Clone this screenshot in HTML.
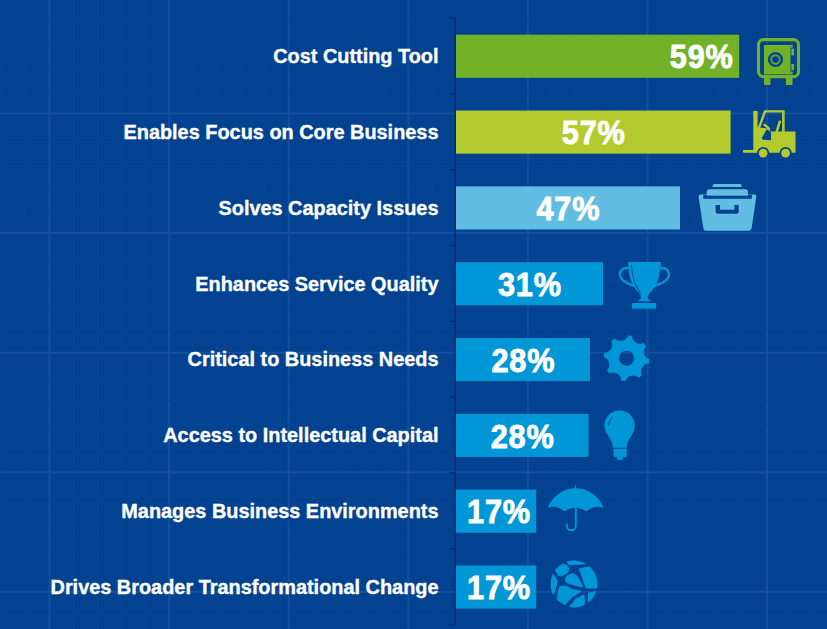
<!DOCTYPE html>
<html><head><meta charset="utf-8"><style>
html,body{margin:0;padding:0;background:#024290;overflow:hidden;}
svg{display:block;}
.lab{font-family:"Liberation Sans", sans-serif;font-weight:bold;font-size:19.9px;fill:#fff;stroke:#fff;stroke-width:0.35px;}
.pct{font-family:"Liberation Sans", sans-serif;font-weight:bold;font-size:32px;fill:#fff;stroke:#fff;stroke-width:0.8px;letter-spacing:0.8px;}
</style></head><body>
<svg width="827" height="629" viewBox="0 0 827 629">
<rect width="827" height="629" fill="#024290"/>
<rect x="1.16" y="0" width="1" height="629" fill="#064692"/>
<rect x="25.08" y="0" width="1" height="629" fill="#064692"/>
<rect x="48.50" y="0" width="2" height="629" fill="#13519e"/>
<rect x="72.92" y="0" width="1" height="629" fill="#064692"/>
<rect x="96.84" y="0" width="1" height="629" fill="#064692"/>
<rect x="120.76" y="0" width="1" height="629" fill="#064692"/>
<rect x="144.68" y="0" width="1" height="629" fill="#064692"/>
<rect x="168.10" y="0" width="2" height="629" fill="#13519e"/>
<rect x="192.52" y="0" width="1" height="629" fill="#064692"/>
<rect x="216.44" y="0" width="1" height="629" fill="#064692"/>
<rect x="240.36" y="0" width="1" height="629" fill="#064692"/>
<rect x="264.28" y="0" width="1" height="629" fill="#064692"/>
<rect x="287.70" y="0" width="2" height="629" fill="#13519e"/>
<rect x="312.12" y="0" width="1" height="629" fill="#064692"/>
<rect x="336.04" y="0" width="1" height="629" fill="#064692"/>
<rect x="359.96" y="0" width="1" height="629" fill="#064692"/>
<rect x="383.88" y="0" width="1" height="629" fill="#064692"/>
<rect x="407.30" y="0" width="2" height="629" fill="#13519e"/>
<rect x="431.72" y="0" width="1" height="629" fill="#064692"/>
<rect x="455.64" y="0" width="1" height="629" fill="#064692"/>
<rect x="479.56" y="0" width="1" height="629" fill="#064692"/>
<rect x="503.48" y="0" width="1" height="629" fill="#064692"/>
<rect x="526.90" y="0" width="2" height="629" fill="#13519e"/>
<rect x="551.32" y="0" width="1" height="629" fill="#064692"/>
<rect x="575.24" y="0" width="1" height="629" fill="#064692"/>
<rect x="599.16" y="0" width="1" height="629" fill="#064692"/>
<rect x="623.08" y="0" width="1" height="629" fill="#064692"/>
<rect x="646.50" y="0" width="2" height="629" fill="#13519e"/>
<rect x="670.92" y="0" width="1" height="629" fill="#064692"/>
<rect x="694.84" y="0" width="1" height="629" fill="#064692"/>
<rect x="718.76" y="0" width="1" height="629" fill="#064692"/>
<rect x="742.68" y="0" width="1" height="629" fill="#064692"/>
<rect x="766.10" y="0" width="2" height="629" fill="#13519e"/>
<rect x="790.52" y="0" width="1" height="629" fill="#064692"/>
<rect x="814.44" y="0" width="1" height="629" fill="#064692"/>
<rect x="0" y="17.32" width="827" height="1" fill="#064692"/>
<rect x="0" y="41.24" width="827" height="1" fill="#064692"/>
<rect x="0" y="65.16" width="827" height="1" fill="#064692"/>
<rect x="0" y="89.08" width="827" height="1" fill="#064692"/>
<rect x="0" y="112.50" width="827" height="2" fill="#13519e"/>
<rect x="0" y="136.92" width="827" height="1" fill="#064692"/>
<rect x="0" y="160.84" width="827" height="1" fill="#064692"/>
<rect x="0" y="184.76" width="827" height="1" fill="#064692"/>
<rect x="0" y="208.68" width="827" height="1" fill="#064692"/>
<rect x="0" y="232.10" width="827" height="2" fill="#13519e"/>
<rect x="0" y="256.52" width="827" height="1" fill="#064692"/>
<rect x="0" y="280.44" width="827" height="1" fill="#064692"/>
<rect x="0" y="304.36" width="827" height="1" fill="#064692"/>
<rect x="0" y="328.28" width="827" height="1" fill="#064692"/>
<rect x="0" y="351.70" width="827" height="2" fill="#13519e"/>
<rect x="0" y="376.12" width="827" height="1" fill="#064692"/>
<rect x="0" y="400.04" width="827" height="1" fill="#064692"/>
<rect x="0" y="423.96" width="827" height="1" fill="#064692"/>
<rect x="0" y="447.88" width="827" height="1" fill="#064692"/>
<rect x="0" y="471.30" width="827" height="2" fill="#13519e"/>
<rect x="0" y="495.72" width="827" height="1" fill="#064692"/>
<rect x="0" y="519.64" width="827" height="1" fill="#064692"/>
<rect x="0" y="543.56" width="827" height="1" fill="#064692"/>
<rect x="0" y="567.48" width="827" height="1" fill="#064692"/>
<rect x="0" y="590.90" width="827" height="2" fill="#13519e"/>
<rect x="0" y="615.32" width="827" height="1" fill="#064692"/>
<rect x="454.6" y="17.4" width="1.3" height="607.6" fill="#012a6c"/>
<rect x="449" y="17.35" width="6.9" height="1.3" fill="#012a6c"/>
<rect x="449" y="93.18" width="6.9" height="1.3" fill="#012a6c"/>
<rect x="449" y="169.01" width="6.9" height="1.3" fill="#012a6c"/>
<rect x="449" y="244.84" width="6.9" height="1.3" fill="#012a6c"/>
<rect x="449" y="320.67" width="6.9" height="1.3" fill="#012a6c"/>
<rect x="449" y="396.50" width="6.9" height="1.3" fill="#012a6c"/>
<rect x="449" y="472.33" width="6.9" height="1.3" fill="#012a6c"/>
<rect x="449" y="548.16" width="6.9" height="1.3" fill="#012a6c"/>
<rect x="449" y="623.99" width="6.9" height="1.3" fill="#012a6c"/>
<rect x="456" y="34.70" width="283.20" height="43.1" fill="#72b229"/>
<text x="438.5" y="63.15" text-anchor="end" class="lab">Cost Cutting Tool</text>
<text transform="translate(733.60,68.45) scale(0.96,1.04)" text-anchor="end" class="pct">59%</text>
<rect x="456" y="110.53" width="274.60" height="43.1" fill="#b4cb2d"/>
<text x="438.5" y="138.98" text-anchor="end" class="lab">Enables Focus on Core Business</text>
<text transform="translate(593.70,144.28) scale(0.96,1.04)" text-anchor="middle" class="pct">57%</text>
<rect x="456" y="186.36" width="224.00" height="43.1" fill="#62bde3"/>
<text x="438.5" y="214.81" text-anchor="end" class="lab">Solves Capacity Issues</text>
<text transform="translate(568.40,220.11) scale(0.96,1.04)" text-anchor="middle" class="pct">47%</text>
<rect x="456" y="262.19" width="147.00" height="43.1" fill="#0196d6"/>
<text x="438.5" y="290.64" text-anchor="end" class="lab">Enhances Service Quality</text>
<text transform="translate(529.90,295.94) scale(0.96,1.04)" text-anchor="middle" class="pct">31%</text>
<rect x="456" y="338.02" width="134.00" height="43.1" fill="#0196d6"/>
<text x="438.5" y="366.47" text-anchor="end" class="lab">Critical to Business Needs</text>
<text transform="translate(523.40,371.77) scale(0.96,1.04)" text-anchor="middle" class="pct">28%</text>
<rect x="456" y="413.85" width="132.50" height="43.1" fill="#0196d6"/>
<text x="438.5" y="442.30" text-anchor="end" class="lab">Access to Intellectual Capital</text>
<text transform="translate(522.65,447.60) scale(0.96,1.04)" text-anchor="middle" class="pct">28%</text>
<rect x="456" y="489.68" width="80.20" height="43.1" fill="#0196d6"/>
<text x="438.5" y="518.13" text-anchor="end" class="lab">Manages Business Environments</text>
<text transform="translate(499.00,523.43) scale(0.96,1.04)" text-anchor="middle" class="pct">17%</text>
<rect x="456" y="565.51" width="80.20" height="43.1" fill="#0196d6"/>
<text x="438.5" y="593.96" text-anchor="end" class="lab">Drives Broader Transformational Change</text>
<text transform="translate(499.00,599.26) scale(0.96,1.04)" text-anchor="middle" class="pct">17%</text>
<g fill="#72b229">
<rect x="758.5" y="39.65" width="40" height="37" rx="5" ry="5" fill="none" stroke="#72b229" stroke-width="3.1"/>
<rect x="764" y="45" width="26.5" height="29.4"/>
<rect x="790.5" y="44.8" width="2.2" height="3"/>
<rect x="790.5" y="71.4" width="2.2" height="3"/>
<rect x="791.3" y="48.6" width="2.8" height="6.7"/>
<rect x="791.3" y="63.9" width="2.8" height="6.3"/>
<rect x="764" y="77" width="6.5" height="8"/>
<rect x="786" y="77" width="6.5" height="8"/>
<circle cx="775.5" cy="59.5" r="6.4" fill="none" stroke="#024290" stroke-width="2.4"/>
<circle cx="775.5" cy="59.5" r="3.3" fill="#024290"/>
<circle cx="775.5" cy="59.5" r="4.3" fill="none" stroke="#024290" stroke-width="0.7" stroke-dasharray="0.9 1.2" opacity="0.8"/>
</g>
<g fill="#b4cb2d">
<rect x="753.3" y="110.9" width="4.3" height="41.9"/>
<rect x="742.9" y="149.9" width="12" height="2.9" rx="1"/>
<path d="M765.5 110.2 H784.7 V132.2 H782.1 V112.6 H765.6 L764.2 111.8 Q764.4 110.2 765.5 110.2 Z"/>
<path d="M765 111.4 L758.9 128.2" stroke="#b4cb2d" stroke-width="2.4" stroke-linecap="round" fill="none"/>
<path d="M779.8 121.7 L776.7 131.6" stroke="#b4cb2d" stroke-width="2.5" stroke-linecap="round" fill="none"/>
<path d="M757 127.4 L766 128.2 L771.2 131.5 H795.5 V152.8 H757 Z"/>
<path d="M766.6 129.4 L771 131.9 V140.2 L763.4 139.8 Q761.6 139.4 762.2 137.2 Z" fill="#024290"/>
<path d="M764.6 124.9 L769.1 128.7" stroke="#b4cb2d" stroke-width="2.5" stroke-linecap="round" fill="none"/>
<circle cx="763.1" cy="153.1" r="6.1" fill="#024290"/>
<circle cx="785.6" cy="153.1" r="6.1" fill="#024290"/>
<circle cx="763.1" cy="153.1" r="4.4"/>
<circle cx="785.6" cy="153.1" r="4.4"/>
</g>
<g fill="#62bde3">
<path d="M714.5 183.9 H739.8 Q741.8 183.9 741.8 186 V187 H712.5 V186 Q712.5 183.9 714.5 183.9 Z"/>
<path d="M709.3 189.2 H745.4 Q747.9 189.2 747.9 191.7 V195.7 H706.8 V191.7 Q706.8 189.2 709.3 189.2 Z"/>
<path d="M700.5 194.4 H754.3 Q756.6 194.4 756.3 196.6 L751.6 228.3 Q751.2 230.8 748.7 230.8 H706.1 Q703.6 230.8 703.3 228.3 L698.6 196.6 Q698.3 194.4 700.5 194.4 Z"/>
<rect x="703.3" y="194.9" width="48.6" height="3.9" fill="#024290"/>
<rect x="706.8" y="191.5" width="41.1" height="4.2"/>
<path d="M715.6 204.9 H720 V209.7 H734.4 V204.9 H738.7 V211.7 Q738.7 213.7 736.7 213.7 H717.6 Q715.6 213.7 715.6 211.7 Z" fill="#024290"/>
</g>
<g fill="#0196d6">
<path d="M628 262 H660.9 C660.5 268 659.5 276 657.9 280 C656.8 283 655.5 285.5 653.5 288.5 C651.5 291.5 648 294 647.9 296.7 V298.8 L651.5 301.2 H637.3 L640.9 298.8 V296.7 C640.8 294 637.3 291.5 635.3 288.5 C633.3 285.5 632 283 630.9 280 C629.3 276 628.3 268 628 262 Z"/>
<rect x="632" y="303" width="24.1" height="5.7"/>
<path d="M629.6 268.2 C624 267.3 619.6 269.5 619.9 274.6 C620.3 280.5 628 284.8 635.8 286" fill="none" stroke="#0196d6" stroke-width="2.3"/>
<path d="M659.2 268.2 C664.8 267.3 669.2 269.5 668.9 274.6 C668.5 280.5 660.8 284.8 653 286" fill="none" stroke="#0196d6" stroke-width="2.3"/>
<path d="M631.3 264.7 C631.8 272 633.5 281 636.5 286.5 C637.8 289 639.2 291.5 640.5 293.5" fill="none" stroke="#024290" stroke-width="0.9"/>
</g>
<mask id="gm"><rect x="590" y="320" width="80" height="80" fill="#fff"/><circle cx="639.99" cy="335.91" r="8" fill="#000"/><circle cx="651.83" cy="351.91" r="8" fill="#000"/><circle cx="648.89" cy="371.59" r="8" fill="#000"/><circle cx="632.89" cy="383.43" r="8" fill="#000"/><circle cx="613.21" cy="380.49" r="8" fill="#000"/><circle cx="601.37" cy="364.49" r="8" fill="#000"/><circle cx="604.31" cy="344.81" r="8" fill="#000"/><circle cx="620.31" cy="332.97" r="8" fill="#000"/><circle cx="626.6" cy="358.2" r="7.55" fill="#000"/></mask>
<circle cx="626.6" cy="358.2" r="23" fill="#0196d6" mask="url(#gm)"/>
<g fill="#0196d6">
<path d="M619.6 410.5 C628 410.5 634.7 417 634.7 425.5 C634.7 430 633 433.5 630.5 437 C628.5 440 627 443 626.7 447.8 H612.9 C612.6 443 611 440 609 437 C606.5 433.5 604.5 430 604.5 425.5 C604.5 417 611.2 410.5 619.6 410.5 Z"/>
<path d="M613.4 448.8 H626.7 V455.2 Q626.7 457.2 624.7 457.2 H615.4 Q613.4 457.2 613.4 455.2 Z"/>
<path d="M616.9 457 H622.7 V458.4 Q622.7 459.9 621.2 459.9 H618.4 Q616.9 459.9 616.9 458.4 Z"/>
<path d="M612.8 417.2 C610.5 418.8 609 421.5 608.6 424.8" fill="none" stroke="#024290" stroke-width="1" stroke-linecap="round"/>
</g>
<g fill="#0196d6">
<path d="M574.2 488.6 L575.4 484.8 L576.6 488.6 Z"/>
<path d="M547.8 508 A29.5 29.5 0 0 1 603.4 508 Q594.5 504.5 585.9 511.5 Q575.6 503.5 564.4 511.5 Q556.5 504.5 547.8 508 Z"/>
<path d="M575.8 507 V525.8 A4.5 4.5 0 0 1 566.8 525.8 V523.8" fill="none" stroke="#0196d6" stroke-width="1.9"/>
</g>
<clipPath id="gc"><circle cx="574" cy="584" r="23.5"/></clipPath>
<g clip-path="url(#gc)" fill="#0196d6" stroke="#0196d6" stroke-width="1" stroke-linejoin="round"><polygon points="566,560.5 590,553 592,563.3 584,563.8 576,564.5 569,564.8"/><polygon points="555.1,570 561.4,564 566.7,565.3 568.9,569.1 567.6,572.7 561.8,575.8 558.7,575.6"/><polygon points="579.1,569.1 590.7,566.5 600,563 600,588 586,588 583.1,579 580.3,572"/><polygon points="567.1,575.8 573,573.5 577,576 582,585 582.8,587.1 576,585.6 566.5,582.5 565.2,579"/><polygon points="552.9,573.6 556.9,580.3 557.3,582 553.3,594.9 548,592 548,575"/><polygon points="559.6,586.5 565.8,586 572,589.4 581,591.4 572,596.7 564.9,604.7 556.9,599.8"/><polygon points="566,611 576,598.9 584,594.9 584.5,611"/><polygon points="588.5,593.1 600,590.5 600,611 588.3,611"/></g>
</svg>
</body></html>
